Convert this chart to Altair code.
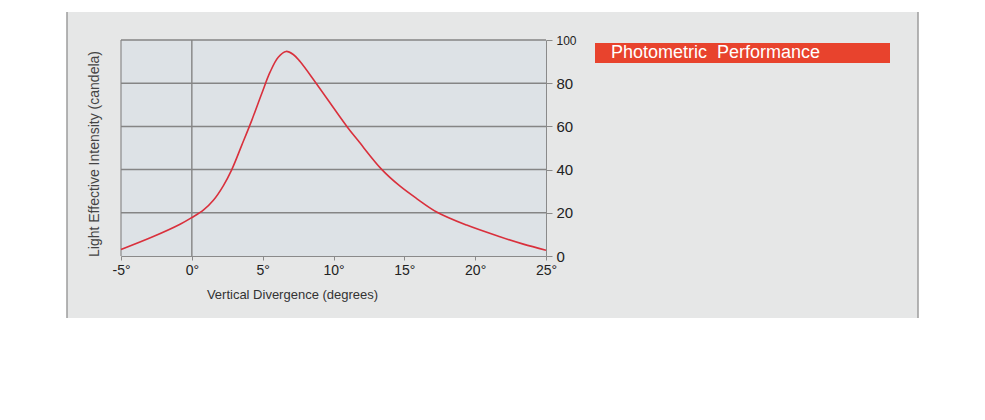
import altair as alt
import pandas as pd

# ---- data ----
divergence = [-5, -2.72, -0.83, 0, 0.81, 1.52, 2.22, 2.82, 3.52, 4.23, 4.93, 5.52, 6.1, 6.65,
              7.16, 7.64, 8.77, 10.93, 11.75, 13.4, 14.7, 15.87, 17.28, 19.4, 21.75, 23.4, 25]
intensity = [3.0, 9.0, 14.7, 17.8, 21.2, 25.8, 32.5, 40.0, 51.2, 62.8, 75.1, 85.1, 92.0, 94.7,
             93.3, 90.0, 80.0, 60.1, 53.3, 40.1, 32.3, 26.6, 20.4, 14.3, 8.9, 5.5, 2.7]
x_ticks = [-5, 0, 5, 10, 15, 20, 25]
y_ticks = [0, 20, 40, 60, 80, 100]
grid_values = [20, 40, 60, 80, 100]
title_text = "Photometric\u00a0 Performance"
x_title = "Vertical Divergence (degrees)"
y_title = "Light Effective Intensity (candela)"

FONT = "Liberation Sans, Arial, sans-serif"
W, H = 425, 216

df = pd.DataFrame({"deg": divergence, "val": intensity})
grid_df = pd.DataFrame({"g": grid_values})

xs = alt.Scale(domain=[-5, 25], nice=False, zero=False)
ys = alt.Scale(domain=[0, 100], nice=False)

# outer grey panel
panel = alt.Chart().mark_rect(fill="#e6e7e7", clip=False).encode(
    x=alt.value(-54), x2=alt.value(797), y=alt.value(-28), y2=alt.value(278)
)
panel_left = alt.Chart().mark_rule(color="#9c9c9c", strokeWidth=1.5, clip=False).encode(
    x=alt.value(-54), y=alt.value(-28), y2=alt.value(278)
)
panel_right = alt.Chart().mark_rule(color="#9c9c9c", strokeWidth=1.5, clip=False).encode(
    x=alt.value(797), y=alt.value(-28), y2=alt.value(278)
)
# plot background
plot_bg = alt.Chart().mark_rect(fill="#dde2e6").encode(
    x=alt.value(0), x2=alt.value(W), y=alt.value(0), y2=alt.value(H)
)
left_edge = alt.Chart().mark_rule(color="#8a8a8a", strokeWidth=1.2).encode(
    x=alt.datum(-5, scale=xs), y=alt.value(0), y2=alt.value(H)
)
zero_line = alt.Chart().mark_rule(color="#8a8a8a", strokeWidth=1.5).encode(
    x=alt.datum(0, scale=xs), y=alt.value(0), y2=alt.value(H)
)
grid = alt.Chart(grid_df).mark_rule(color="#858585", strokeWidth=1.5).encode(
    y=alt.Y("g:Q", scale=ys), x=alt.value(0), x2=alt.value(W)
)

line = alt.Chart(df).mark_line(color="#d9303c", strokeWidth=1.6, interpolate="catmull-rom").encode(
    x=alt.X("deg:Q", scale=xs,
            axis=alt.Axis(values=x_ticks, labelExpr="datum.value + '°'", orient="bottom",
                          grid=False, domainColor="#8a8a8a", tickColor="#8a8a8a",
                          tickSize=4, labelPadding=3, labelFontSize=14, labelColor="#222222",
                          labelFont=FONT, labelFlush=False, labelOverlap=False,
                          title=x_title, titleFont=FONT, titleFontSize=13,
                          titleFontWeight="normal", titleColor="#333333",
                          titleX=171, titleY=38, titleAlign="center", titleBaseline="middle",
                          zindex=1)),
    y=alt.Y("val:Q", scale=ys,
            axis=alt.Axis(values=y_ticks, orient="right", grid=False, domainColor="#8a8a8a",
                          tickColor="#8a8a8a", tickSize=6, labelPadding=4,
                          labelFontSize=alt.expr("datum.value == 100 ? 12 : 15"),
                          labelFlush=False, labelOverlap=False,
                          labelColor="#222222", labelFont=FONT, title=None, zindex=1)),
)

y_title_mark = alt.Chart().mark_text(
    text=y_title, angle=270, font=FONT, fontSize=14, color="#444444",
    align="center", baseline="middle", clip=False
).encode(x=alt.value(-26), y=alt.value(114))

banner = alt.Chart().mark_rect(fill="#e8432d", clip=False).encode(
    x=alt.value(474), x2=alt.value(769), y=alt.value(3), y2=alt.value(23)
)
banner_text = alt.Chart().mark_text(
    text=title_text, font=FONT, fontSize=18, color="white",
    align="left", baseline="alphabetic", clip=False
).encode(x=alt.value(490), y=alt.value(17.5))

chart = alt.layer(
    panel, panel_left, panel_right, plot_bg, left_edge, zero_line, grid, line,
    y_title_mark, banner, banner_text
).properties(
    width=W, height=H,
    padding={"left": 113, "top": 32, "right": 380, "bottom": 70},
    autosize=alt.AutoSizeParams(type="none"),
    background="white",
).configure_view(stroke=None)

chart.save("out.html", embed_options={"renderer": "svg", "actions": False})
